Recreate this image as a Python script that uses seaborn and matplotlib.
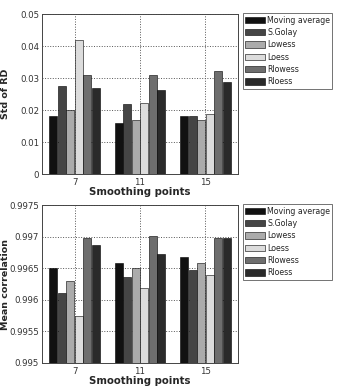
import matplotlib
matplotlib.use("Agg")
import matplotlib.pyplot as plt
import numpy as np
import pandas as pd
import seaborn as sns

points = ["7", "11", "15"]
methods = ["Moving average", "S.Golay", "Lowess", "Loess", "Rlowess", "Rloess"]
colors = ["#111111", "#454545", "#ababab", "#dcdcdc", "#6e6e6e", "#2a2a2a"]

std_rd = {
    "Moving average": [0.018, 0.016, 0.018],
    "S.Golay": [0.0276, 0.0219, 0.018],
    "Lowess": [0.0199, 0.0168, 0.0168],
    "Loess": [0.042, 0.0221, 0.0187],
    "Rlowess": [0.031, 0.031, 0.0322],
    "Rloess": [0.027, 0.0262, 0.0287],
}
mean_corr = {
    "Moving average": [0.99650, 0.99659, 0.99668],
    "S.Golay": [0.99610, 0.99636, 0.99647],
    "Lowess": [0.99630, 0.99650, 0.99659],
    "Loess": [0.99575, 0.99619, 0.99639],
    "Rlowess": [0.99697, 0.99701, 0.99697],
    "Rloess": [0.99686, 0.99673, 0.99697],
}


def to_long(d):
    rows = []
    for m in methods:
        for p, v in zip(points, d[m]):
            rows.append({"points": p, "method": m, "value": v})
    return pd.DataFrame(rows)


sns.set_style("white")
plt.rcParams["font.family"] = ["DejaVu Sans"]

fig = plt.figure(figsize=(3.41, 3.86), dpi=100)
ax1 = fig.add_axes([42 / 341, 1 - 174 / 386, 196 / 341, 160 / 386])
ax2 = fig.add_axes([42 / 341, 1 - 363 / 386, 196 / 341, 158 / 386])

panels = [
    (ax1, std_rd, "Std of RD", (0, 0.05), np.arange(0, 0.0501, 0.01),
     ["0", "0.01", "0.02", "0.03", "0.04", "0.05"]),
    (ax2, mean_corr, "Mean correlation", (0.995, 0.9975), np.arange(0.995, 0.99751, 0.0005),
     ["0.995", "0.9955", "0.996", "0.9965", "0.997", "0.9975"]),
]

for ax, data, ylab, ylim, yt, ytl in panels:
    df = to_long(data)
    sns.barplot(data=df, x="points", y="value", hue="method", hue_order=methods,
                palette=colors, order=points, width=0.78, gap=0.06,
                edgecolor="black", linewidth=0.4, ax=ax)
    ax.set_ylim(*ylim)
    ax.set_xlim(-0.5, 2.5)
    ax.set_yticks(yt)
    ax.set_yticklabels(ytl, fontsize=6.2, color="#333333")
    ax.tick_params(axis="x", labelsize=6.2, labelcolor="#333333", length=0, pad=3)
    ax.tick_params(axis="y", length=0, pad=2)
    ax.set_axisbelow(True)
    ax.grid(True, linestyle=":", color="#555555", linewidth=0.7)
    for s in ax.spines.values():
        s.set_color("#444444")
        s.set_linewidth(0.7)
    ax.set_xlabel("Smoothing points", fontsize=7.3, fontweight="bold", labelpad=0)
    ax.set_ylabel(ylab, fontsize=6.8, fontweight="bold")
    ax.yaxis.set_label_coords(-0.165, 0.5)
    leg = ax.legend(loc="upper left", bbox_to_anchor=(1.025, 1.005), fontsize=5.7,
                    frameon=True, fancybox=False, edgecolor="#333333",
                    handlelength=2.5, handleheight=0.9, handletextpad=0.25,
                    labelspacing=0.42, borderpad=0.3, borderaxespad=0)
    leg.get_frame().set_linewidth(0.6)

fig.savefig("out.png", dpi=100)
